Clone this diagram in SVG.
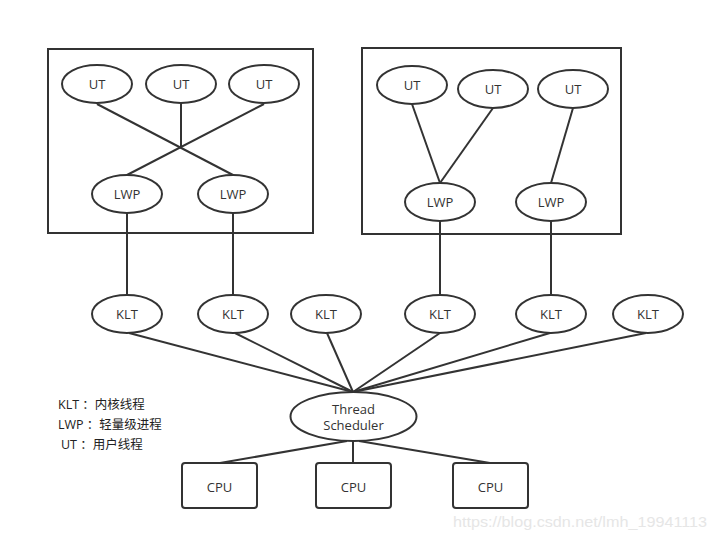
<svg xmlns="http://www.w3.org/2000/svg" width="715" height="541" viewBox="0 0 715 541">
<style>
.n ellipse, .n rect, .box { fill: #fff; stroke: #333; stroke-width: 2; }
.box { fill: none; }
.t { font-family: "Open Sans", "Noto Sans", sans-serif; font-size: 13px; fill: #333; text-anchor: middle; dominant-baseline: central; }
.c line { stroke: #333; stroke-width: 2; }
.lg { font-family: "Open Sans", "Noto Sans CJK SC", sans-serif; font-size: 12.5px; fill: #222; }
</style>
<rect width="715" height="541" fill="#fff"/>
<rect class="box" x="48" y="49" width="265" height="184"/>
<rect class="box" x="362" y="48" width="259" height="186"/>
<g class="c">
  <line x1="97" y1="104" x2="233" y2="175"/>
  <line x1="264" y1="104" x2="127" y2="175"/>
  <line x1="181" y1="103" x2="181" y2="147"/>
  <line x1="412" y1="104" x2="440" y2="183"/>
  <line x1="493" y1="108" x2="440" y2="183"/>
  <line x1="573" y1="108" x2="551" y2="183"/>
  <line x1="127" y1="213" x2="127" y2="295"/>
  <line x1="233" y1="213" x2="233" y2="295"/>
  <line x1="440" y1="221" x2="440" y2="295"/>
  <line x1="551" y1="221" x2="551" y2="295"/>
  <line x1="129" y1="333" x2="353" y2="392"/>
  <line x1="235" y1="333" x2="353" y2="392"/>
  <line x1="327" y1="333" x2="353" y2="392"/>
  <line x1="440" y1="333" x2="353" y2="392"/>
  <line x1="550" y1="333" x2="353" y2="392"/>
  <line x1="646" y1="333" x2="353" y2="392"/>
  <line x1="347" y1="441" x2="220" y2="463"/>
  <line x1="353" y1="441" x2="353" y2="463"/>
  <line x1="359" y1="441" x2="490" y2="463"/>
</g>
<g id="ut1" class="n"><ellipse cx="97" cy="84" rx="35" ry="19"/><text class="t" x="97" y="84">UT</text></g>
<g id="ut2" class="n"><ellipse cx="181" cy="84" rx="35" ry="19"/><text class="t" x="181" y="84">UT</text></g>
<g id="ut3" class="n"><ellipse cx="264" cy="84" rx="35" ry="19"/><text class="t" x="264" y="84">UT</text></g>
<g id="lwp1" class="n"><ellipse cx="127" cy="194" rx="35" ry="19"/><text class="t" x="127" y="194">LWP</text></g>
<g id="lwp2" class="n"><ellipse cx="233" cy="194" rx="35" ry="19"/><text class="t" x="233" y="194">LWP</text></g>
<g id="ut4" class="n"><ellipse cx="412" cy="85" rx="35" ry="19"/><text class="t" x="412" y="85">UT</text></g>
<g id="ut5" class="n"><ellipse cx="493" cy="89" rx="35" ry="19"/><text class="t" x="493" y="89">UT</text></g>
<g id="ut6" class="n"><ellipse cx="573" cy="89" rx="35" ry="19"/><text class="t" x="573" y="89">UT</text></g>
<g id="lwp3" class="n"><ellipse cx="440" cy="202" rx="35" ry="19"/><text class="t" x="440" y="202">LWP</text></g>
<g id="lwp4" class="n"><ellipse cx="551" cy="202" rx="35" ry="19"/><text class="t" x="551" y="202">LWP</text></g>
<g id="klt1" class="n"><ellipse cx="127" cy="314" rx="35" ry="19"/><text class="t" x="127" y="314">KLT</text></g>
<g id="klt2" class="n"><ellipse cx="233" cy="314" rx="35" ry="19"/><text class="t" x="233" y="314">KLT</text></g>
<g id="klt3" class="n"><ellipse cx="326" cy="314" rx="35" ry="19"/><text class="t" x="326" y="314">KLT</text></g>
<g id="klt4" class="n"><ellipse cx="440" cy="314" rx="35" ry="19"/><text class="t" x="440" y="314">KLT</text></g>
<g id="klt5" class="n"><ellipse cx="551" cy="314" rx="35" ry="19"/><text class="t" x="551" y="314">KLT</text></g>
<g id="klt6" class="n"><ellipse cx="648" cy="314" rx="35" ry="19"/><text class="t" x="648" y="314">KLT</text></g>
<g id="sched" class="n"><ellipse cx="353.5" cy="416.5" rx="63" ry="24.5"/><text class="t" x="353.5" y="408.5">Thread</text><text class="t" x="353.5" y="425">Scheduler</text></g>
<g id="cpu1" class="n"><rect x="182" y="463" width="75" height="45" rx="3"/><text class="t" x="219.5" y="487">CPU</text></g>
<g id="cpu2" class="n"><rect x="316" y="463" width="75" height="45" rx="3"/><text class="t" x="353.5" y="487">CPU</text></g>
<g id="cpu3" class="n"><rect x="453" y="463" width="75" height="45" rx="3"/><text class="t" x="490.5" y="487">CPU</text></g>
<g id="legend">
  <text class="lg" x="58" y="409">KLT ：内核线程</text>
  <text class="lg" x="58" y="429">LWP ：轻量级进程</text>
  <text class="lg" x="61" y="449">UT ：用户线程</text>
</g>
<text x="453" y="527" font-family="Liberation Sans, Arial, sans-serif" font-size="15" fill="#e6e6e6" textLength="254" lengthAdjust="spacingAndGlyphs">https://blog.csdn.net/lmh_19941113</text>
</svg>
